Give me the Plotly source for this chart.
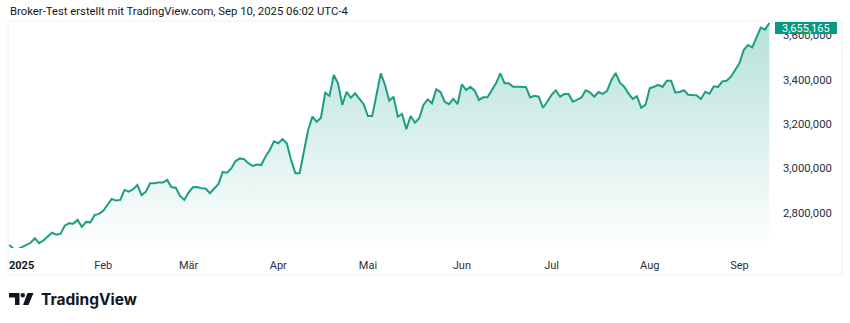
import pandas as pd
import plotly.graph_objects as go

# ---------------- data (daily closes, weekdays, Good Friday closed) ----------------
jan = [2655000, 2638000, 2636000, 2646000, 2655000, 2665000, 2685000, 2663000, 2675000, 2693000,
       2710000, 2701000, 2705000, 2742000, 2753000, 2751000, 2768000, 2737000, 2759000, 2757000,
       2790000, 2795000]
feb = [2809000, 2835000, 2862000, 2855000, 2858000, 2903000, 2895000, 2906000, 2925000, 2880000,
       2895000, 2933000, 2933000, 2937000, 2936000, 2948000, 2915000, 2913000, 2876000, 2858000]
mar = [2891000, 2915000, 2916000, 2910000, 2909000, 2888000, 2910000, 2930000, 2984000, 2981000,
       3000000, 3033000, 3045000, 3042000, 3023000, 3011000, 3017000, 3015000, 3053000, 3083000,
       3122000]
apr = [3113000, 3132000, 3113000, 3038000, 2978000, 2978000, 3083000, 3173000, 3233000, 3210000,
       3228000, 3341000, 3327000, 3421000, 3383000, 3286000, 3345000, 3318000, 3338000, 3316000,
       3289000]
may = [3236000, 3236000, 3331000, 3428000, 3376000, 3305000, 3323000, 3233000, 3245000, 3177000,
       3236000, 3206000, 3226000, 3286000, 3311000, 3293000, 3356000, 3344000, 3300000, 3289000,
       3313000, 3290000]
jun = [3379000, 3353000, 3368000, 3350000, 3308000, 3320000, 3320000, 3350000, 3383000, 3428000,
       3383000, 3383000, 3368000, 3368000, 3367000, 3367000, 3320000, 3327000, 3323000, 3273000,
       3300000]
jul = [3331000, 3352000, 3323000, 3335000, 3335000, 3300000, 3311000, 3319000, 3352000, 3343000,
       3323000, 3344000, 3336000, 3349000, 3397000, 3430000, 3386000, 3368000, 3338000, 3313000,
       3325000, 3273000, 3286000]
aug = [3361000, 3368000, 3376000, 3367000, 3395000, 3395000, 3341000, 3344000, 3352000, 3332000,
       3331000, 3329000, 3313000, 3345000, 3336000, 3370000, 3367000, 3392000, 3395000, 3413000,
       3443000]
sep = [3473000, 3533000, 3556000, 3545000, 3589000, 3634000, 3625000, 3655165]

values = jan + feb + mar + apr + may + jun + jul + aug + sep
holidays = ["2025-04-18"]
start_date, end_date = "2025-01-02", "2025-09-10"
dates = [d for d in pd.bdate_range(start_date, end_date) if d.strftime("%Y-%m-%d") not in holidays]
assert len(dates) == len(values), (len(dates), len(values))

month_ticks = ["2025-02-03", "2025-03-03", "2025-04-01", "2025-05-01",
               "2025-06-02", "2025-07-01", "2025-08-01", "2025-09-01"]
month_labels = ["Feb", "Mär", "Apr", "Mai", "Jun", "Jul", "Aug", "Sep"]
year_label = "2025"
price_ticks = [2800000, 3000000, 3200000, 3400000, 3600000]
last_label = "3,655,165"
header = "Broker-Test erstellt mit TradingView.com, Sep 10, 2025 06:02 UTC-4"

# ---------------- styling ----------------
GREEN = "#089981"
LINE = "#1a9e84"
TEXT = "#131722"
FONT = "Roboto"

L, T, W, H = 8, 22, 767, 226          # plot area in pixels
def px(x):
    return (x - L) / W
def py(y):
    return (T + H - y) / H

y_lo, y_hi = 2641441, 3659459

fig = go.Figure()
fig.add_trace(go.Scatter(
    x=dates, y=values, mode="lines",
    line=dict(color=LINE, width=2),
    fill="tozeroy",
    fillgradient=dict(type="vertical",
                      colorscale=[[0, "rgba(8,153,129,0.0)"], [1, "rgba(8,153,129,0.30)"]],
                      start=y_lo, stop=y_hi),
    hoverinfo="skip", showlegend=False,
))

fig.update_layout(
    width=850, height=323, autosize=False,
    margin=dict(l=L, r=850 - L - W, t=T, b=323 - T - H),
    paper_bgcolor="white", plot_bgcolor="white",
    font=dict(family=FONT, size=11, color=TEXT),
    xaxis=dict(
        type="date",
        range=["2025-01-01 17:00", "2025-09-11 08:00"],
        rangebreaks=[dict(bounds=["sat", "mon"]), dict(values=holidays)],
        tickvals=month_ticks, ticktext=month_labels,
        showgrid=False, zeroline=False, showline=False, ticks="",
        ticklabelstandoff=9,
        tickfont=dict(family=FONT, size=11, color="#2a2e39"),
    ),
    yaxis=dict(
        side="right", range=[y_lo, y_hi],
        tickvals=price_ticks, tickformat=",d",
        showgrid=False, zeroline=False, showline=False, ticks="",
        ticklabelstandoff=7,
        tickfont=dict(family=FONT, size=11.3, color="#2a2e39"),
    ),
)

shapes = [
    # outer frame
    dict(type="rect", xref="paper", yref="paper", x0=px(8), x1=px(842), y0=py(275), y1=py(21),
         line=dict(color="#eef0f5", width=1), fillcolor="rgba(0,0,0,0)", layer="below"),
    # last value badge
    dict(type="rect", xref="paper", yref="paper", x0=px(775), x1=px(837), y0=py(34), y1=py(22),
         line=dict(width=0), fillcolor=GREEN, layer="above"),
    # TradingView logo mark
    dict(type="path", xref="paper", yref="paper",
         path=f"M {px(9)},{py(293)} L {px(19.5)},{py(293)} L {px(19.5)},{py(305)} L {px(15)},{py(305)} "
              f"L {px(15)},{py(297.5)} L {px(9)},{py(297.5)} Z",
         fillcolor=TEXT, line=dict(width=0), layer="above"),
    dict(type="circle", xref="paper", yref="paper", x0=px(20.5), x1=px(25), y0=py(297.6), y1=py(293.1),
         fillcolor=TEXT, line=dict(width=0), layer="above"),
    dict(type="path", xref="paper", yref="paper",
         path=f"M {px(27.5)},{py(293)} L {px(33.5)},{py(293)} L {px(28.5)},{py(305)} L {px(23)},{py(305)} Z",
         fillcolor=TEXT, line=dict(width=0), layer="above"),
]
fig.update_layout(shapes=shapes)

annotations = [
    dict(text=header, xref="paper", yref="paper", x=px(8), y=py(11), xanchor="left", yanchor="middle",
         showarrow=False, font=dict(family=FONT, size=11.3, color=TEXT)),
    dict(text=f"<b>{year_label}</b>", xref="paper", yref="paper", x=px(21), y=py(265),
         xanchor="center", yanchor="middle", showarrow=False,
         font=dict(family=FONT, size=11, color=TEXT)),
    dict(text=last_label, xref="paper", yref="paper", x=px(806), y=py(28),
         xanchor="center", yanchor="middle", showarrow=False,
         font=dict(family=FONT, size=11, color="white")),
    dict(text="<b>TradingView</b>", xref="paper", yref="paper", x=px(39), y=py(299.5),
         xanchor="left", yanchor="middle", showarrow=False,
         font=dict(family="Inter", size=15.5, color=TEXT)),
]
fig.update_layout(annotations=annotations)

fig.write_html("out.html")
